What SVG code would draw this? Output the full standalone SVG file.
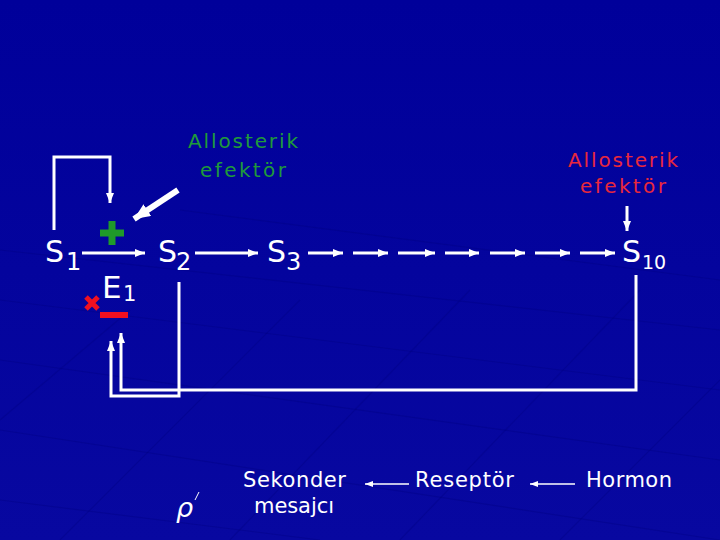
<svg xmlns="http://www.w3.org/2000/svg" width="720" height="540" viewBox="0 0 720 540">
<defs>
<linearGradient id="bg" x1="0" y1="0" x2="0" y2="1">
<stop offset="0" stop-color="#00009a"/>
<stop offset="1" stop-color="#0808a0"/>
</linearGradient>
<marker id="ah" markerWidth="10" markerHeight="8" refX="10" refY="4" orient="auto" markerUnits="userSpaceOnUse"><path d="M0,0 L10,4 L0,8 z" fill="#fff"/></marker>
<marker id="ahb" markerWidth="16" markerHeight="14" refX="16" refY="7" orient="auto" markerUnits="userSpaceOnUse"><path d="M0,0 L16,7 L0,14 z" fill="#fff"/></marker>
<marker id="ahs" markerWidth="8" markerHeight="6" refX="8" refY="3" orient="auto" markerUnits="userSpaceOnUse"><path d="M0,0 L8,3 L0,6 z" fill="#fff"/></marker>
<style>
.big{font-family:"DejaVu Sans",sans-serif;fill:#fff;font-size:30px}
.sub{font-family:"DejaVu Sans",sans-serif;fill:#fff;font-size:24px}
.lab{font-family:"DejaVu Sans",sans-serif;fill:#fff;font-size:21px}
.gr{font-family:"DejaVu Sans",sans-serif;fill:#1f9a3a;font-size:20px;text-anchor:middle}
.rd{font-family:"DejaVu Sans",sans-serif;fill:#e8283c;font-size:20px;text-anchor:middle}
.ln{stroke:#fff;stroke-width:3;fill:none}
.dl{stroke:#fff;stroke-width:3;marker-end:url(#ah)}
.grid{stroke:#000080;stroke-width:1.2;fill:none;opacity:0.35}
</style>
</defs>
<rect width="720" height="540" fill="url(#bg)"/>
<g id="floor">
<path class="grid" d="M0,250 L720,330 M0,300 L720,390 M0,360 L720,460 M0,430 L720,540 M180,210 L720,280 M0,500 L320,540"/>
<path class="grid" d="M60,540 L300,300 M230,540 L470,290 M400,540 L640,290 M560,540 L720,380 M0,420 L130,310"/>
</g>
<g id="connectors">
<path class="ln" d="M54,230 V157 H110 V203" marker-end="url(#ah)"/>
<line class="dl" x1="82" y1="253" x2="145" y2="253"/>
<line x1="178" y1="190" x2="134" y2="219" stroke="#fff" stroke-width="6" marker-end="url(#ahb)"/>
<line class="dl" x1="195" y1="253" x2="258" y2="253"/>
<line class="dl" x1="308" y1="253" x2="343" y2="253"/>
<line class="dl" x1="353" y1="253" x2="388" y2="253"/>
<line class="dl" x1="398" y1="253" x2="435" y2="253"/>
<line class="dl" x1="445" y1="253" x2="479" y2="253"/>
<line class="dl" x1="490" y1="253" x2="525" y2="253"/>
<line class="dl" x1="535" y1="253" x2="570" y2="253"/>
<line class="dl" x1="580" y1="253" x2="615" y2="253"/>
<line class="ln" x1="627" y1="206" x2="627" y2="231" marker-end="url(#ah)"/>
<path class="ln" d="M179,282 V396 H111 V341" marker-end="url(#ah)"/>
<path class="ln" d="M636,275 V390 H121 V333" marker-end="url(#ah)"/>
<line x1="409" y1="484" x2="365" y2="484" stroke="#fff" stroke-width="1.5" marker-end="url(#ahs)"/>
<line x1="575" y1="484" x2="530" y2="484" stroke="#fff" stroke-width="1.5" marker-end="url(#ahs)"/>
</g>
<g id="plus">
<rect x="100" y="229.5" width="24" height="7" fill="#1f9a2a"/>
<rect x="108.5" y="221" width="7" height="24" fill="#1f9a2a"/>
</g>
<g id="inhibit">
<path d="M86,297 L98,309 M98,297 L86,309" stroke="#f01020" stroke-width="5"/>
<rect x="100" y="312" width="28" height="6" fill="#f01020"/>
</g>
<g id="s1"><text class="big" x="45" y="262">S</text><text class="sub" x="66" y="270">1</text></g>
<g id="e1"><text class="big" x="102" y="298" style="font-size:31px">E</text><text class="sub" x="123" y="301" style="font-size:21px">1</text></g>
<g id="s2"><text class="big" x="158" y="262">S</text><text class="sub" x="176" y="270">2</text></g>
<g id="s3"><text class="big" x="267" y="262">S</text><text class="sub" x="286" y="270">3</text></g>
<g id="s10"><text class="big" x="622" y="262">S</text><text class="sub" x="642" y="269" style="font-size:19px">10</text></g>
<g id="allo1"><text class="gr" x="243" y="148" textLength="110">Allosterik</text><text class="gr" x="243" y="177" textLength="86">efektör</text></g>
<g id="allo2"><text class="rd" x="623" y="167" textLength="110">Allosterik</text><text class="rd" x="623" y="193" textLength="86">efektör</text></g>
<g id="sekonder"><text class="lab" x="243" y="487" textLength="103">Sekonder</text><text class="lab" x="254" y="513" textLength="80">mesajcı</text></g>
<g id="reseptor"><text class="lab" x="415" y="487" textLength="99">Reseptör</text></g>
<g id="hormon"><text class="lab" x="586" y="487" textLength="86">Hormon</text></g>
<g id="rho"><text class="lab" x="176" y="517" style="font-style:italic;font-size:27px">ρ</text><line x1="195" y1="500" x2="199" y2="492" stroke="#fff" stroke-width="1"/></g>
</svg>
